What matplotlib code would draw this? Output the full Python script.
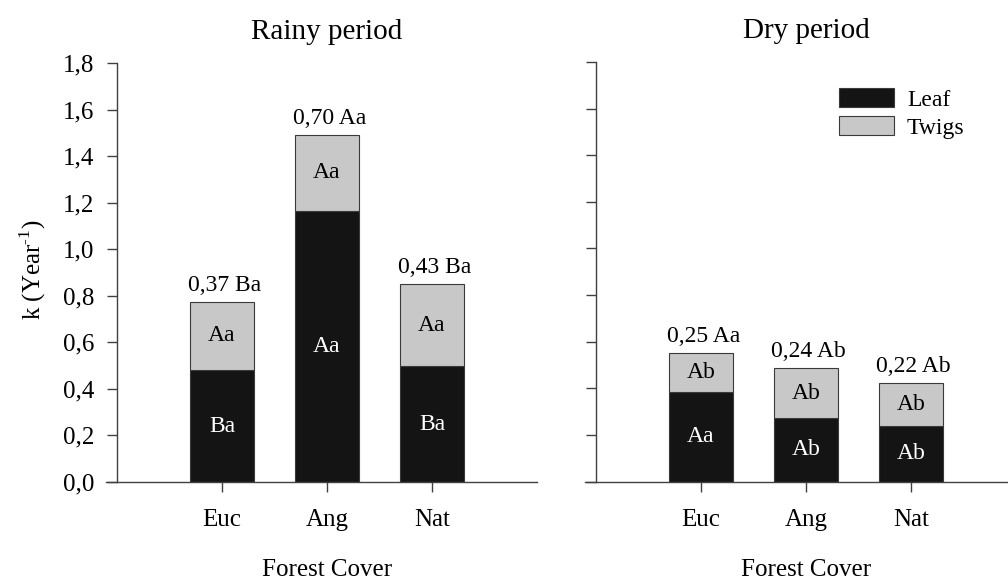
import numpy as np
import matplotlib
matplotlib.use("Agg")
import matplotlib.pyplot as plt
from matplotlib.ticker import FuncFormatter
from matplotlib.patches import Patch

plt.rcParams['font.family'] = ['Liberation Serif', 'DejaVu Serif']
plt.rcParams['mathtext.fontset'] = 'custom'
plt.rcParams['mathtext.rm'] = 'Liberation Serif'

covers = ["Euc", "Ang", "Nat"]

# decomposition rate k per period, split by litter fraction
rainy_leaf = [0.481, 1.165, 0.497]
rainy_twigs = [0.293, 0.325, 0.354]
dry_leaf = [0.385, 0.272, 0.237]
dry_twigs = [0.167, 0.215, 0.185]

rainy_total_lbl = ["0,37 Ba", "0,70 Aa", "0,43 Ba"]
rainy_leaf_lbl = ["Ba", "Aa", "Ba"]
rainy_twigs_lbl = ["Aa", "Aa", "Aa"]
dry_total_lbl = ["0,25 Aa", "0,24 Ab", "0,22 Ab"]
dry_leaf_lbl = ["Aa", "Ab", "Ab"]
dry_twigs_lbl = ["Ab", "Ab", "Ab"]

yticks = np.arange(0, 1.81, 0.2)

leaf_color = "#141414"
twig_color = "#c8c8c8"
edge_color = "#3a3a3a"
line_color = "#404040"

W, H = 1008, 580
fig = plt.figure(figsize=(W / 100, H / 100), dpi=100)
ax1 = fig.add_axes([117 / W, (H - 482) / H, 420 / W, 419 / H])
ax2 = fig.add_axes([596 / W, (H - 481.5) / H, 420 / W, 419.5 / H])


def draw_panel(ax, leaf, twigs, total_lbl, leaf_lbl, twig_lbl, title):
    x = np.arange(len(covers))
    leaf = np.array(leaf)
    twigs = np.array(twigs)
    ax.bar(x, leaf, width=0.61, color=leaf_color, edgecolor=edge_color, linewidth=0.8)
    ax.bar(x, twigs, width=0.61, bottom=leaf, color=twig_color, edgecolor=edge_color, linewidth=0.8)
    for i in range(len(x)):
        ax.text(x[i], leaf[i] / 2, leaf_lbl[i], ha="center", va="center",
                color="white", fontsize=17)
        ax.text(x[i], leaf[i] + twigs[i] / 2, twig_lbl[i], ha="center", va="center",
                color="black", fontsize=17)
        ax.annotate(total_lbl[i], (x[i], leaf[i] + twigs[i]), xytext=(2, 8),
                    textcoords="offset points", ha="center", va="baseline", fontsize=17)

    ax.set_xlim(-1, 3)
    ax.set_ylim(0, 1.8)
    ax.set_xticks(x)
    ax.set_xticklabels(covers)
    ax.set_yticks(yticks)
    for s in ["top", "right"]:
        ax.spines[s].set_visible(False)
    for s in ["left", "bottom"]:
        ax.spines[s].set_color(line_color)
        ax.spines[s].set_linewidth(1.0)
    # bottom line runs out past the y ticks
    ax.spines["bottom"].set_bounds(-1 - 11 / 105, 3)
    ax.tick_params(axis="both", direction="out", length=7.5, width=1.0,
                   color=line_color, labelsize=18, pad=9)
    ax.tick_params(axis="x", pad=12)
    ax.set_title(title, fontsize=21, pad=17)
    ax.text(0.5, -(576 - 482) / 419, "Forest Cover", transform=ax.transAxes,
            ha="center", va="baseline", fontsize=18)


draw_panel(ax1, rainy_leaf, rainy_twigs, rainy_total_lbl, rainy_leaf_lbl,
           rainy_twigs_lbl, "Rainy period")
draw_panel(ax2, dry_leaf, dry_twigs, dry_total_lbl, dry_leaf_lbl,
           dry_twigs_lbl, "Dry period")

ax1.yaxis.set_major_formatter(FuncFormatter(lambda v, p: f"{v:.1f}".replace(".", ",")))
ax2.set_yticklabels([])

fig.text(33 / W, 1 - 270 / H, r"k (Year$^{\text{-1}}$)", rotation=90,
         ha="center", va="center", fontsize=18)

handles = [Patch(facecolor=leaf_color, edgecolor=edge_color, linewidth=0.8),
           Patch(facecolor=twig_color, edgecolor=edge_color, linewidth=0.8)]
ax2.legend(handles, ["Leaf", "Twigs"], loc="upper left",
           bbox_to_anchor=(839 / W, 1 - 88 / H), bbox_transform=fig.transFigure,
           frameon=False, fontsize=17, handlelength=2.33, handleheight=0.85,
           handletextpad=0.55, labelspacing=0.25, borderpad=0, borderaxespad=0)

plt.savefig("out.png", dpi=100, facecolor="white")
